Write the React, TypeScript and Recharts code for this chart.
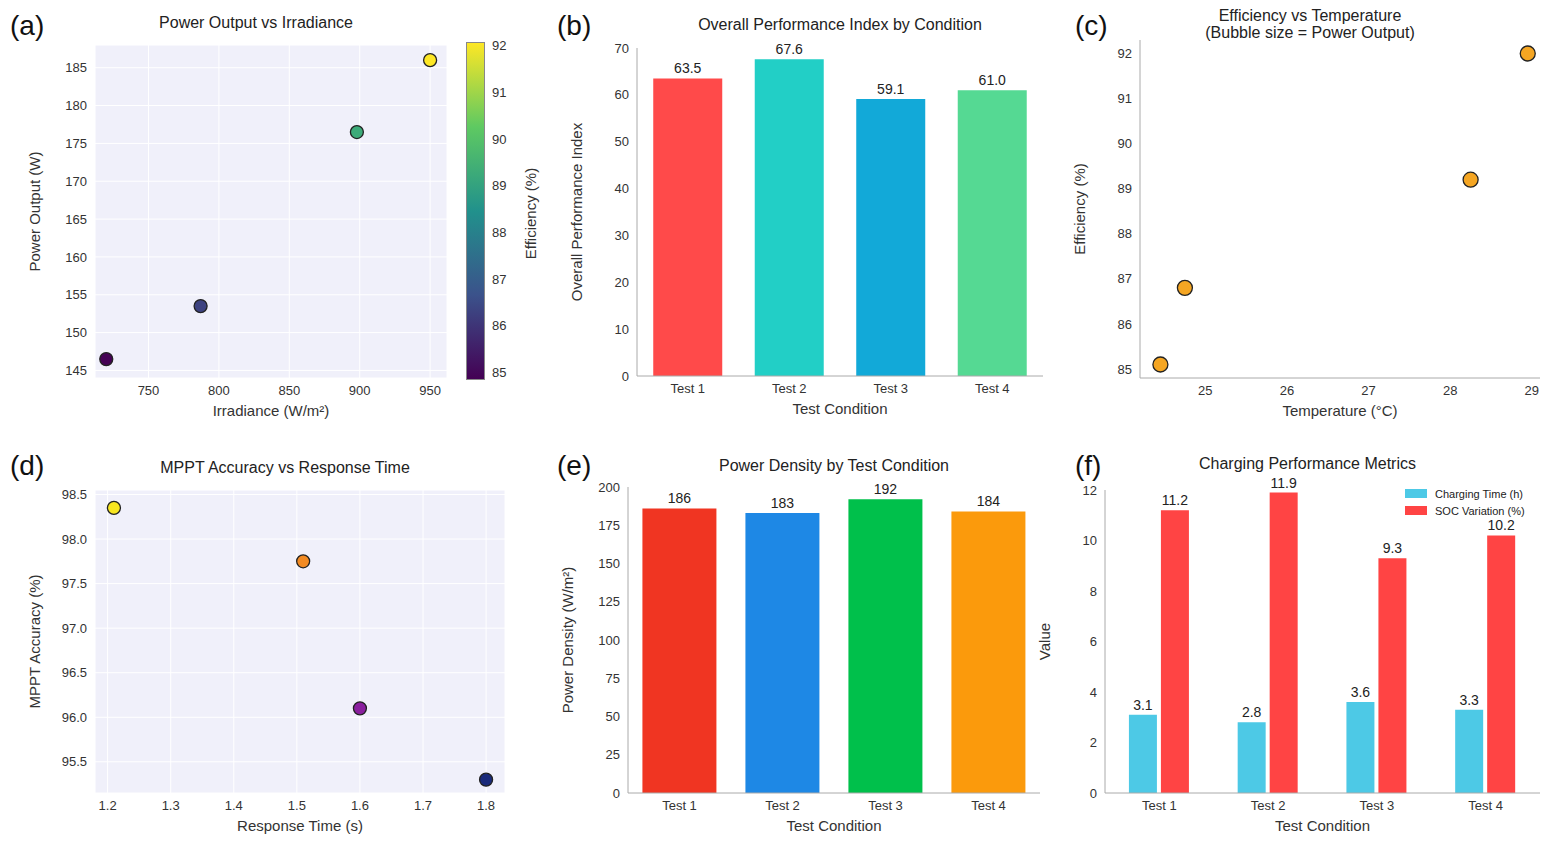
import React from "react";
import {
  ScatterChart, Scatter, BarChart, Bar, XAxis, YAxis, CartesianGrid, Cell, LabelList,
} from "recharts";

// (a)
const irradiance = [720, 787, 898, 950];
const powerOut = [146.5, 153.5, 176.5, 186];
const effA = [85.0, 86.4, 89.3, 92.0];
// (b)
const tests = ["Test 1", "Test 2", "Test 3", "Test 4"];
const perfIndex = [63.5, 67.6, 59.1, 61.0];
const perfColors = ["#ff4a4a", "#22cfc6", "#12a9d8", "#55d993"];
// (c)
const temperature = [24.45, 24.75, 28.25, 28.95];
const effC = [85.1, 86.8, 89.2, 92.0];
// (d)
const respTime = [1.21, 1.51, 1.6, 1.8];
const mpptAcc = [98.35, 97.75, 96.1, 95.3];
const mpptColors = ["#f8e620", "#f28a22", "#8a1f9e", "#1a2a7a"];
// (e)
const powerDensity = [186, 183, 192, 184];
const densityColors = ["#f03522", "#1e88e5", "#00c04b", "#fb9a0c"];
// (f)
const chargeTime = [3.1, 2.8, 3.6, 3.3];
const socVar = [11.2, 11.9, 9.3, 10.2];

const viridis = ["#440154", "#3b528b", "#21918c", "#5ec962", "#fde725"];
const vcolor = (v: number) => {
  const t = Math.max(0, Math.min(1, (v - 85) / 7)) * (viridis.length - 1);
  const i = Math.min(viridis.length - 2, Math.floor(t));
  const f = t - i;
  const h = (s: string, k: number) => parseInt(s.slice(1 + 2 * k, 3 + 2 * k), 16);
  const c = [0, 1, 2].map((k) => Math.round(h(viridis[i], k) * (1 - f) + h(viridis[i + 1], k) * f));
  return `rgb(${c.join(",")})`;
};

const F = "Liberation Sans, Arial, sans-serif";
const tick = { fontSize: 13, fill: "#333", fontFamily: F };
const axisLbl = (v: string, angle = 0) => ({ value: v, angle, position: angle ? "insideLeft" : "insideBottom", style: { fontSize: 15, fill: "#333", fontFamily: F, textAnchor: "middle" }, offset: angle ? 0 : -8 } as any);

type Box = { x0: number; y0: number; x1: number; y1: number };
const frame = (b: Box) => ({
  style: { position: "absolute" as const, left: b.x0 - 70, top: b.y0 - 40 },
  width: b.x1 - b.x0 + 85,
  height: b.y1 - b.y0 + 90,
  margin: { top: 40, right: 15, left: 10, bottom: 20 },
});

const dot = (r: number, fill?: string) => (p: any) => (
  <circle cx={p.cx} cy={p.cy} r={r} fill={fill ?? p.fill} stroke="#222" strokeWidth={1.3} />
);

const Title = ({ x, y, w, text }: { x: number; y: number; w: number; text: React.ReactNode }) => (
  <div style={{ position: "absolute", left: x, top: y, width: w, textAlign: "center", fontSize: 16, color: "#222", fontFamily: F, lineHeight: "17px" }}>{text}</div>
);
const Letter = ({ x, y, t }: { x: number; y: number; t: string }) => (
  <div style={{ position: "absolute", left: x, top: y, fontSize: 28, fontFamily: F, color: "#111" }}>{t}</div>
);

const bA: Box = { x0: 95, y0: 45, x1: 447, y1: 378 };
const bB: Box = { x0: 637, y0: 48, x1: 1043, y1: 376 };
const bC: Box = { x0: 1140, y0: 40, x1: 1540, y1: 378 };
const bD: Box = { x0: 95, y0: 490, x1: 505, y1: 793 };
const bE: Box = { x0: 628, y0: 487, x1: 1040, y1: 793 };
const bF: Box = { x0: 1105, y0: 490, x1: 1540, y1: 793 };

export default function App() {
  const dA = irradiance.map((x, i) => ({ x, y: powerOut[i], e: effA[i] }));
  const dB = tests.map((t, i) => ({ t, v: perfIndex[i] }));
  const dC = temperature.map((x, i) => ({ x, y: effC[i] }));
  const dD = respTime.map((x, i) => ({ x, y: mpptAcc[i] }));
  const dE = tests.map((t, i) => ({ t, v: powerDensity[i] }));
  const dF = tests.map((t, i) => ({ t, c: chargeTime[i], s: socVar[i] }));
  const axisLine = { stroke: "#aaa" };
  return (
    <div style={{ position: "relative", width: 1559, height: 866, background: "#fff", fontFamily: F, margin: -8 }}>
      <Letter x={10} y={10} t="(a)" /><Letter x={557} y={10} t="(b)" /><Letter x={1075} y={10} t="(c)" />
      <Letter x={10} y={450} t="(d)" /><Letter x={557} y={450} t="(e)" /><Letter x={1075} y={450} t="(f)" />
      <Title x={bA.x0} y={14} w={bA.x1 - bA.x0 - 30} text="Power Output vs Irradiance" />
      <Title x={bB.x0} y={16} w={bB.x1 - bB.x0} text="Overall Performance Index by Condition" />
      <Title x={bC.x0} y={7} w={bC.x1 - bC.x0 - 60} text={<>Efficiency vs Temperature<br />(Bubble size = Power Output)</>} />
      <Title x={bD.x0} y={459} w={bD.x1 - bD.x0 - 30} text="MPPT Accuracy vs Response Time" />
      <Title x={bE.x0} y={457} w={bE.x1 - bE.x0} text="Power Density by Test Condition" />
      <Title x={bF.x0} y={455} w={bF.x1 - bF.x0 - 30} text="Charging Performance Metrics" />

      <ScatterChart {...frame(bA)}>
        <CartesianGrid fill="#f0f0fa" stroke="#fff" />
        <XAxis type="number" dataKey="x" domain={[712, 962]} ticks={[750, 800, 850, 900, 950]} tick={tick} axisLine={false} tickLine={false} label={axisLbl("Irradiance (W/m²)")} />
        <YAxis type="number" dataKey="y" domain={[144, 188]} ticks={[145, 150, 155, 160, 165, 170, 175, 180, 185]} tick={tick} axisLine={false} tickLine={false} label={axisLbl("Power Output (W)", -90)} />
        <Scatter data={dA} isAnimationActive={false} shape={dot(6.5)}>
          {dA.map((d, i) => <Cell key={i} fill={vcolor(d.e)} />)}
        </Scatter>
      </ScatterChart>
      <div style={{ position: "absolute", left: 466, top: 42, width: 17, height: 336, background: `linear-gradient(to top, ${viridis.join(",")})`, border: "1px solid #888" }} />
      {[85, 86, 87, 88, 89, 90, 91, 92].map((v) => (
        <div key={v} style={{ position: "absolute", left: 492, top: 42 + 336 - ((v - 85) / 7.2) * 336 - 13, fontSize: 13, color: "#333" }}>{v}</div>
      ))}
      <div style={{ position: "absolute", left: 470, top: 205, transform: "rotate(-90deg)", fontSize: 15, color: "#333", whiteSpace: "nowrap", width: 120, textAlign: "center" }}>Efficiency (%)</div>

      <BarChart {...frame(bB)} data={dB} barCategoryGap="16%">
        <XAxis dataKey="t" tick={tick} axisLine={axisLine} tickLine={false} label={axisLbl("Test Condition")} />
        <YAxis domain={[0, 70]} ticks={[0, 10, 20, 30, 40, 50, 60, 70]} tick={tick} axisLine={axisLine} tickLine={false} label={axisLbl("Overall Performance Index", -90)} />
        <Bar dataKey="v" isAnimationActive={false}>
          {dB.map((d, i) => <Cell key={i} fill={perfColors[i]} />)}
          <LabelList dataKey="v" position="top" formatter={(v: any) => Number(v).toFixed(1)} style={{ fontSize: 14, fill: "#222" }} />
        </Bar>
      </BarChart>

      <ScatterChart {...frame(bC)}>
        <XAxis type="number" dataKey="x" domain={[24.2, 29.1]} ticks={[25, 26, 27, 28, 29]} tick={tick} axisLine={axisLine} tickLine={false} label={axisLbl("Temperature (°C)")} />
        <YAxis type="number" dataKey="y" domain={[84.8, 92.3]} ticks={[85, 86, 87, 88, 89, 90, 91, 92]} tick={tick} axisLine={axisLine} tickLine={false} label={axisLbl("Efficiency (%)", -90)} />
        <Scatter data={dC} isAnimationActive={false} shape={dot(7.5, "#f5a623")} />
      </ScatterChart>

      <ScatterChart {...frame(bD)}>
        <CartesianGrid fill="#f0f0fa" stroke="#fff" />
        <XAxis type="number" dataKey="x" domain={[1.18, 1.83]} ticks={[1.2, 1.3, 1.4, 1.5, 1.6, 1.7, 1.8]} tick={tick} axisLine={false} tickLine={false} label={axisLbl("Response Time (s)")} />
        <YAxis type="number" dataKey="y" domain={[95.15, 98.55]} ticks={[95.5, 96, 96.5, 97, 97.5, 98, 98.5]} tickFormatter={(v) => v.toFixed(1)} tick={tick} axisLine={false} tickLine={false} label={axisLbl("MPPT Accuracy (%)", -90)} />
        <Scatter data={dD} isAnimationActive={false} shape={dot(6.5)}>
          {dD.map((d, i) => <Cell key={i} fill={mpptColors[i]} />)}
        </Scatter>
      </ScatterChart>

      <BarChart {...frame(bE)} data={dE} barCategoryGap="14%">
        <XAxis dataKey="t" tick={tick} axisLine={axisLine} tickLine={false} label={axisLbl("Test Condition")} />
        <YAxis domain={[0, 200]} ticks={[0, 25, 50, 75, 100, 125, 150, 175, 200]} tick={tick} axisLine={axisLine} tickLine={false} label={axisLbl("Power Density (W/m²)", -90)} />
        <Bar dataKey="v" isAnimationActive={false}>
          {dE.map((d, i) => <Cell key={i} fill={densityColors[i]} />)}
          <LabelList dataKey="v" position="top" style={{ fontSize: 14, fill: "#222" }} />
        </Bar>
      </BarChart>

      <BarChart {...frame(bF)} data={dF} barCategoryGap="22%" barGap={4}>
        <XAxis dataKey="t" tick={tick} axisLine={axisLine} tickLine={false} label={axisLbl("Test Condition")} />
        <YAxis domain={[0, 12]} ticks={[0, 2, 4, 6, 8, 10, 12]} tick={tick} axisLine={axisLine} tickLine={false} label={axisLbl("Value", -90)} />
        <Bar dataKey="c" name="Charging Time (h)" fill="#4dc9e6" isAnimationActive={false}>
          <LabelList dataKey="c" position="top" formatter={(v: any) => Number(v).toFixed(1)} style={{ fontSize: 14, fill: "#222" }} />
        </Bar>
        <Bar dataKey="s" name="SOC Variation (%)" fill="#ff4444" isAnimationActive={false}>
          <LabelList dataKey="s" position="top" formatter={(v: any) => Number(v).toFixed(1)} style={{ fontSize: 14, fill: "#222" }} />
        </Bar>
      </BarChart>
      <div style={{ position: "absolute", left: 1405, top: 486, fontSize: 11, color: "#222", lineHeight: "17px" }}>
        <div><span style={{ display: "inline-block", width: 22, height: 9, background: "#4dc9e6", marginRight: 8 }} />Charging Time (h)</div>
        <div><span style={{ display: "inline-block", width: 22, height: 9, background: "#ff4444", marginRight: 8 }} />SOC Variation (%)</div>
      </div>
    </div>
  );
}
